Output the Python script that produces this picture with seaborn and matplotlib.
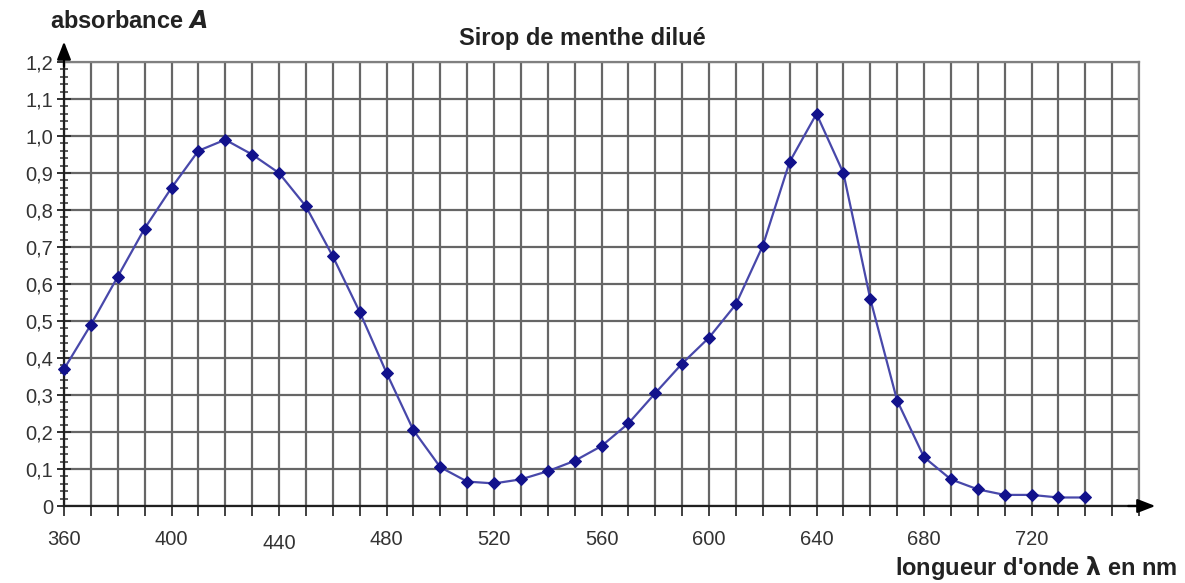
import matplotlib
matplotlib.use("Agg")
import matplotlib.pyplot as plt
from matplotlib.ticker import MultipleLocator, FuncFormatter
import seaborn as sns
import pandas as pd

# Data
wavelength_nm = [360, 370, 380, 390, 400, 410, 420, 430, 440, 450,
                 460, 470, 480, 490, 500, 510, 520, 530, 540, 550,
                 560, 570, 580, 590, 600, 610, 620, 630, 640, 650,
                 660, 670, 680, 690, 700, 710, 720, 730, 740]
absorbance = [0.37, 0.49, 0.62, 0.75, 0.86, 0.96, 0.99, 0.95, 0.90, 0.81,
              0.675, 0.525, 0.36, 0.205, 0.105, 0.066, 0.061, 0.072, 0.094, 0.122,
              0.162, 0.223, 0.305, 0.385, 0.455, 0.545, 0.703, 0.93, 1.06, 0.90,
              0.56, 0.285, 0.132, 0.072, 0.045, 0.03, 0.03, 0.023, 0.023]
x_labels = [360, 400, 440, 480, 520, 560, 600, 640, 680, 720]
y_labels = ["0", "0,1", "0,2", "0,3", "0,4", "0,5", "0,6", "0,7", "0,8", "0,9", "1,0", "1,1", "1,2"]
title = "Sirop de menthe dilué"

df = pd.DataFrame({"lambda": wavelength_nm, "A": absorbance})

sns.set_theme(style="white")
plt.rcParams["font.family"] = ["Liberation Sans", "DejaVu Sans"]

W, H = 1185, 583
fig = plt.figure(figsize=(W / 100, H / 100), dpi=100)
x0, x1, ytop, ybot = 64, 1139, 62, 506
ax = fig.add_axes([x0 / W, 1 - ybot / H, (x1 - x0) / W, (ybot - ytop) / H])

ax.set_xlim(360, 760)
ax.set_ylim(0, 1.2)

# grid
ax.xaxis.set_major_locator(MultipleLocator(10))
ax.yaxis.set_major_locator(MultipleLocator(0.1))
ax.yaxis.set_minor_locator(MultipleLocator(0.02))
ax.grid(True, which="major", color="#666666", lw=1.6, zorder=0)
ax.set_axisbelow(True)

for s in ["top", "right"]:
    ax.spines[s].set_color("#808080")
    ax.spines[s].set_linewidth(1.6)
for s in ["left", "bottom"]:
    ax.spines[s].set_color("#202020")
    ax.spines[s].set_linewidth(1.6)

sns.lineplot(data=df, x="lambda", y="A", ax=ax, color="#4848aa", lw=1.6,
             marker="D", markersize=6, markerfacecolor="#12128c",
             markeredgecolor="#12128c", zorder=5, clip_on=False)

def xfmt(v, pos):
    iv = int(round(v))
    return str(iv) if iv in x_labels else ""

def yfmt(v, pos):
    i = int(round(v * 10))
    if abs(v * 10 - i) < 1e-6 and 0 <= i < len(y_labels):
        return y_labels[i]
    return ""

ax.xaxis.set_major_formatter(FuncFormatter(xfmt))
ax.yaxis.set_major_formatter(FuncFormatter(yfmt))
ax.tick_params(axis="x", which="major", direction="out", length=7, width=1.4,
               color="#404040", labelsize=14.5, labelcolor="#333333", pad=10, bottom=True)
ax.tick_params(axis="y", which="major", direction="inout", length=10, width=1.4,
               color="#303030", labelsize=14.5, labelcolor="#333333", pad=3, left=True)
ax.tick_params(axis="y", which="minor", direction="inout", length=6, width=1.1,
               color="#303030", left=True)
ax.set_xlabel("")
ax.set_ylabel("")

fig.canvas.draw()
for t in ax.xaxis.get_major_ticks():
    if abs(t.get_loc() - 440) < 1e-6:
        t.set_pad(13)

# axis arrows
ax.annotate("", xy=(1.0152, 0), xycoords="axes fraction", xytext=(0.99, 0),
            arrowprops=dict(arrowstyle="-|>,head_length=0.9,head_width=0.35",
                            color="black", lw=1.6, shrinkA=0, shrinkB=0),
            annotation_clip=False)
ax.annotate("", xy=(0, 1.046), xycoords="axes fraction", xytext=(0, 0.99),
            arrowprops=dict(arrowstyle="-|>,head_length=0.9,head_width=0.35",
                            color="black", lw=1.6, shrinkA=0, shrinkB=0),
            annotation_clip=False)

# texts
fig.text(582 / W, 1 - 38 / H, title, ha="center", va="center",
         fontsize=17, fontweight="bold", color="#222222")
fig.text(50 / W, 1 - 22 / H, "absorbance $\\boldsymbol{A}$", ha="left", va="center",
         fontsize=17, fontweight="bold", color="#222222")
fig.text(1177 / W, 1 - 568 / H, "longueur d'onde $\\boldsymbol{\\lambda}$ en nm",
         ha="right", va="center", fontsize=17, fontweight="bold", color="#222222")

fig.savefig("out.png", dpi=100, facecolor="white")
